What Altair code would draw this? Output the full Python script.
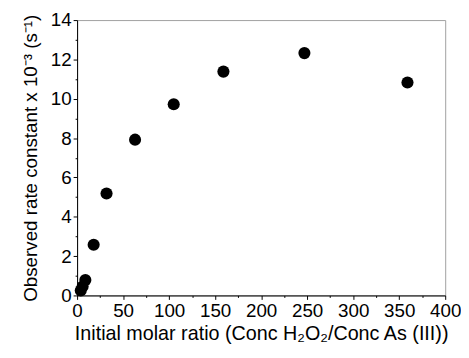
import altair as alt
import pandas as pd

ratio = [4, 6, 9, 18, 32, 63, 105, 159, 247, 359]
rate = [0.25, 0.45, 0.78, 2.58, 5.18, 7.92, 9.72, 11.38, 12.32, 10.83]
x_ticks = list(range(0, 401, 25))
y_ticks = list(range(0, 15, 1))

df = pd.DataFrame({"ratio": ratio, "rate": rate})
W, H = 373, 279
FONT = "Liberation Sans"

xs = alt.Scale(domain=[0, 400], nice=False)
ys = alt.Scale(domain=[0, 14], nice=False)

axis_common = dict(domain=True, domainColor="black", domainWidth=1, grid=False,
                   ticks=True, tickColor="black", tickWidth=1,
                   labelFontSize=19, labelColor="black", titleColor="black",
                   labelFont=FONT, titleFont=FONT, titleFontWeight="normal",
                   labelOverlap=False, labelFlush=False)

chart = alt.Chart(df).mark_circle(size=150, color="black", opacity=1).encode(
    x=alt.X("ratio:Q", scale=xs,
            title="Initial molar ratio (Conc H₂O₂/Conc As (III))",
            axis=alt.Axis(values=x_ticks, titleFontSize=20, labelPadding=2,
                          titlePadding=4,
                          tickSize={"condition": {"test": "datum.value % 50 === 0", "value": 4}, "value": 2},
                          labelExpr="datum.value % 50 === 0 ? datum.label : ''",
                          **axis_common)),
    y=alt.Y("rate:Q", scale=ys,
            title="Observed rate constant x 10⁻³ (s⁻¹)",
            axis=alt.Axis(values=y_ticks, titleFontSize=19, labelPadding=2,
                          titlePadding=10,
                          tickSize={"condition": {"test": "datum.value % 2 === 0", "value": 4}, "value": 2},
                          labelExpr="datum.value % 2 === 0 ? datum.label : ''",
                          **axis_common)),
).properties(
    width=W, height=H, padding={"left": 13, "top": 1, "right": 0, "bottom": 0}
).configure_view(stroke="#a0a0a0", strokeWidth=1)

chart.save("out.html", embed_options={"renderer": "svg", "actions": False})
